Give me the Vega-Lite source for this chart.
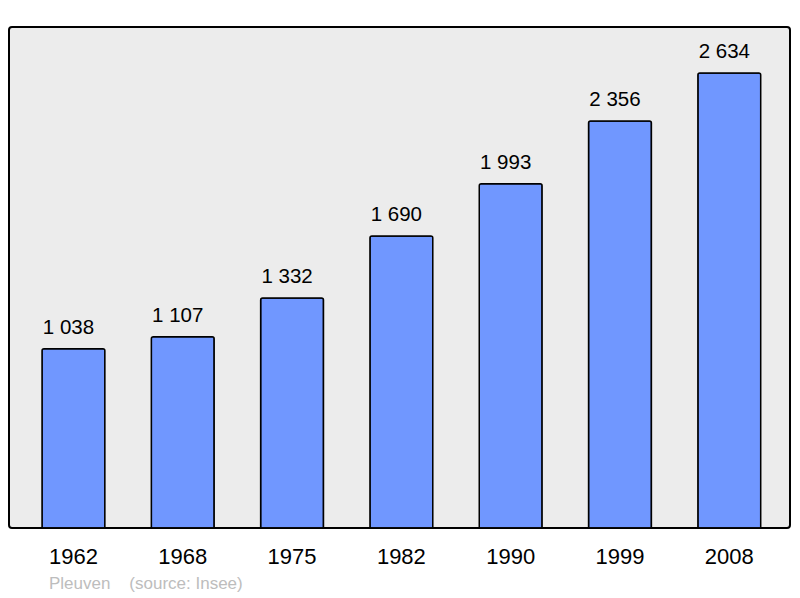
{
  "$schema": "https://vega.github.io/schema/vega-lite/v6.json",
  "width": 781,
  "height": 501,
  "autosize": "none",
  "padding": {"left": 9, "top": 27, "right": 10, "bottom": 70},
  "background": "white",
  "config": {
    "font": "Liberation Sans",
    "locale": {"number": {"decimal": ",", "thousands": " ", "grouping": [3], "currency": ["", " €"]}},
    "view": {"fill": "#ececec", "stroke": "black", "strokeWidth": 2, "cornerRadius": 3}
  },
  "title": {
    "text": "Pleuven\u00a0\u00a0\u00a0\u00a0(source: Insee)",
    "orient": "bottom",
    "anchor": "start",
    "dx": 40,
    "offset": 9,
    "fontSize": 17,
    "fontWeight": "normal",
    "color": "#bdbdbd",
    "font": "Liberation Sans"
  },
  "data": {
    "values": [
      {"year": "1962", "population": 1038},
      {"year": "1968", "population": 1107},
      {"year": "1975", "population": 1332},
      {"year": "1982", "population": 1690},
      {"year": "1990", "population": 1993},
      {"year": "1999", "population": 2356},
      {"year": "2008", "population": 2634}
    ]
  },
  "encoding": {
    "x": {
      "field": "year",
      "type": "nominal",
      "sort": null,
      "scale": {"paddingInner": 0.425, "paddingOuter": 0.285, "align": 0.53},
      "axis": {"title": null, "domain": false, "ticks": false, "labelAngle": 0, "labelFontSize": 22, "labelColor": "black", "labelPadding": 18, "labelFont": "Liberation Sans"}
    },
    "y": {
      "field": "population",
      "type": "quantitative",
      "scale": {"domain": [0, 2900], "nice": false},
      "axis": null
    }
  },
  "layer": [
    {
      "mark": {"type": "bar", "fill": "#7097ff", "stroke": "black", "strokeWidth": 1.5, "cornerRadiusTopLeft": 2, "cornerRadiusTopRight": 2}
    },
    {
      "mark": {"type": "text", "baseline": "alphabetic", "dy": -15, "dx": -5, "fontSize": 20.5, "color": "black"},
      "encoding": {"text": {"field": "population", "type": "quantitative", "format": ",d"}}
    }
  ]
}
